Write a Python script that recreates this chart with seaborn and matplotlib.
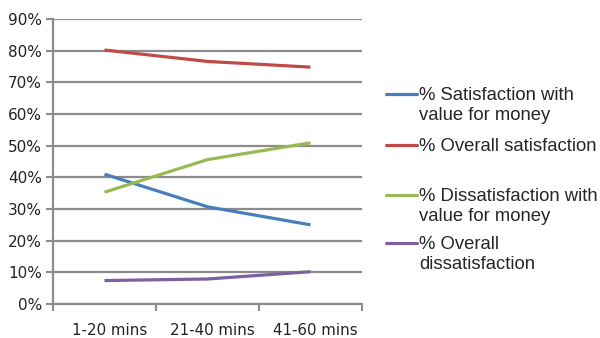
import matplotlib
matplotlib.use("Agg")
import matplotlib.pyplot as plt
import matplotlib.transforms as mtransforms
from matplotlib.lines import Line2D
from matplotlib.ticker import FixedLocator, PercentFormatter
import pandas as pd
import seaborn as sns

# Journey time bands and survey results (%)
categories = ["1-20 mins", "21-40 mins", "41-60 mins"]
sat_value = [41.0, 30.7, 25.0]
overall_sat = [80.2, 76.6, 74.8]
dissat_value = [35.3, 45.6, 50.9]
overall_dissat = [7.4, 7.9, 10.2]

series_names = [
    "% Satisfaction with\nvalue for money",
    "% Overall satisfaction",
    "% Dissatisfaction with\nvalue for money",
    "% Overall\ndissatisfaction",
]
series_values = [sat_value, overall_sat, dissat_value, overall_dissat]
colors = ["#4A7EBB", "#BE4B48", "#98B954", "#7D60A0"]

rows = []
for name, vals in zip(series_names, series_values):
    for cat, v in zip(categories, vals):
        rows.append({"band": cat, "value": v, "series": name})
df = pd.DataFrame(rows)

sns.set_theme(style="white")
plt.rcParams["font.family"] = ["DejaVu Sans"]

fig = plt.figure(figsize=(6.0, 3.38), dpi=100)
ax = fig.add_axes([0.0883, 0.1006, 0.515, 0.8432])

sns.lineplot(data=df, x="band", y="value", hue="series", hue_order=series_names,
             palette=colors, linewidth=2.3, legend=False, ax=ax,
             solid_capstyle="butt", sort=False)

grid_color = "#8C8C8C"
ax.set_xlim(-0.5, 2.5)
ax.set_ylim(0, 90)
ax.set_yticks(range(0, 91, 10))
ax.yaxis.set_major_formatter(PercentFormatter(decimals=0))
ax.yaxis.grid(True, color=grid_color, linewidth=1.6)
ax.set_axisbelow(True)

ax.set_xticks(range(len(categories)))
ax.set_xticklabels(categories)
ax.xaxis.set_minor_locator(FixedLocator([-0.5, 0.5, 1.5, 2.5]))
ax.tick_params(axis="x", which="major", length=0, pad=14, labelsize=10.8, colors="#222222")
ax.tick_params(axis="x", which="minor", length=5, width=1.5, color=grid_color, direction="out", bottom=True)
ax.tick_params(axis="y", which="major", length=5, width=1.5, color=grid_color, direction="out",
               left=True, pad=3, labelsize=11, labelcolor="#222222")
ax.set_xlabel("")
ax.set_ylabel("")

# nudge category labels slightly to the right
shift = mtransforms.ScaledTranslation(5 / 100, 0, fig.dpi_scale_trans)
for lbl in ax.get_xticklabels():
    lbl.set_transform(lbl.get_transform() + shift)

for side in ["top", "right"]:
    ax.spines[side].set_visible(False)
for side in ["left", "bottom"]:
    ax.spines[side].set_color(grid_color)
    ax.spines[side].set_linewidth(1.6)

# Legend on the right, handle aligned with the first text line
W, H = 600.0, 338.0
line_centers = [94, 145, 195, 243]
for name, color, yc in zip(series_names, colors, line_centers):
    fig.add_artist(Line2D([386 / W, 417 / W], [1 - yc / H, 1 - yc / H],
                          color=color, linewidth=2.3, transform=fig.transFigure))
    fig.text(419 / W, 1 - (yc - 7) / H, name, ha="left", va="top",
             fontsize=13.3, family=["Liberation Sans", "DejaVu Sans"],
             color="#262626", linespacing=1.25)

fig.savefig("out.png", dpi=100, facecolor="white")
